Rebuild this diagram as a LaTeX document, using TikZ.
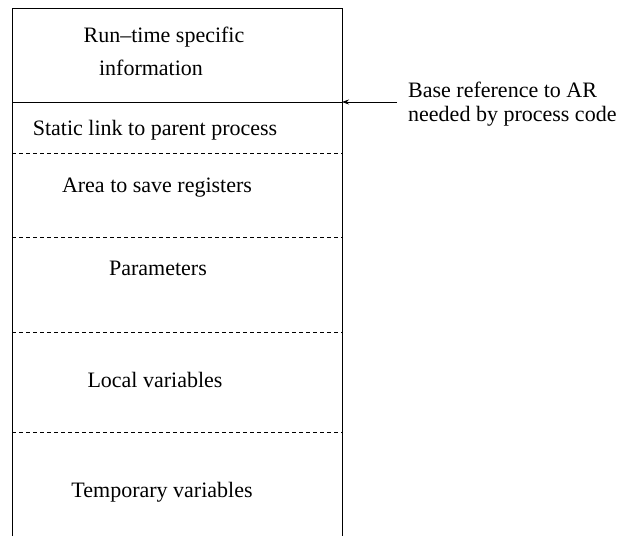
\documentclass[tikz,border=0pt]{standalone}
\usepackage{fontspec}
\setmainfont{Liberation Serif}
\usetikzlibrary{arrows.meta}
\begin{document}
\begin{tikzpicture}[x=1pt,y=-1pt,
  frame/.style={line width=0.9pt,black},
  divider/.style={line width=0.9pt,dash pattern=on 4pt off 3pt},
  label/.style={inner sep=0pt,anchor=base,font=\fontsize{22}{26}\selectfont},
  sidelabel/.style={inner sep=0pt,anchor=base west,font=\fontsize{22}{26}\selectfont},
  pointer/.style={line width=0.8pt,-{Stealth[length=7pt,width=5pt]}}]
\useasboundingbox (0,0) rectangle (620,536);
% frame corners and section boundaries
\coordinate (tl) at (12,8);
\coordinate (tr) at (342,8);
\coordinate (bl) at (12,536);
\coordinate (br) at (342,536);
\coordinate (s1l) at (12,102);  \coordinate (s1r) at (342,102);
\coordinate (s2l) at (12,153);  \coordinate (s2r) at (342,153);
\coordinate (s3l) at (12,237);  \coordinate (s3r) at (342,237);
\coordinate (s4l) at (12,332);  \coordinate (s4r) at (342,332);
\coordinate (s5l) at (12,432);  \coordinate (s5r) at (342,432);
% open-bottomed frame
\draw[frame] (bl) -- (tl) -- (tr) -- (br);
\draw[frame] (s1l) -- (s1r);
\draw[divider] (s2l) -- (s2r);
\draw[divider] (s3l) -- (s3r);
\draw[divider] (s4l) -- (s4r);
\draw[divider] (s5l) -- (s5r);
% section labels
\node[label] (rt1) at (164,42) {Run--time specific};
\node[label] (rt2) at (151,75) {information};
\node[label] (sl) at (155,135) {Static link to parent process};
\node[label] (ar) at (157,192) {Area to save registers};
\node[label] (pa) at (158,275) {Parameters};
\node[label] (lv) at (155,387) {Local variables};
\node[label] (tv) at (162,497) {Temporary variables};
% base reference pointer
\coordinate (ptail) at (397,102);
\draw[pointer] (ptail) -- (s1r);
\node[sidelabel] (br1) at (408,97) {Base reference to AR};
\node[sidelabel] (br2) at (408,121) {needed by process code};
\end{tikzpicture}
\end{document}
